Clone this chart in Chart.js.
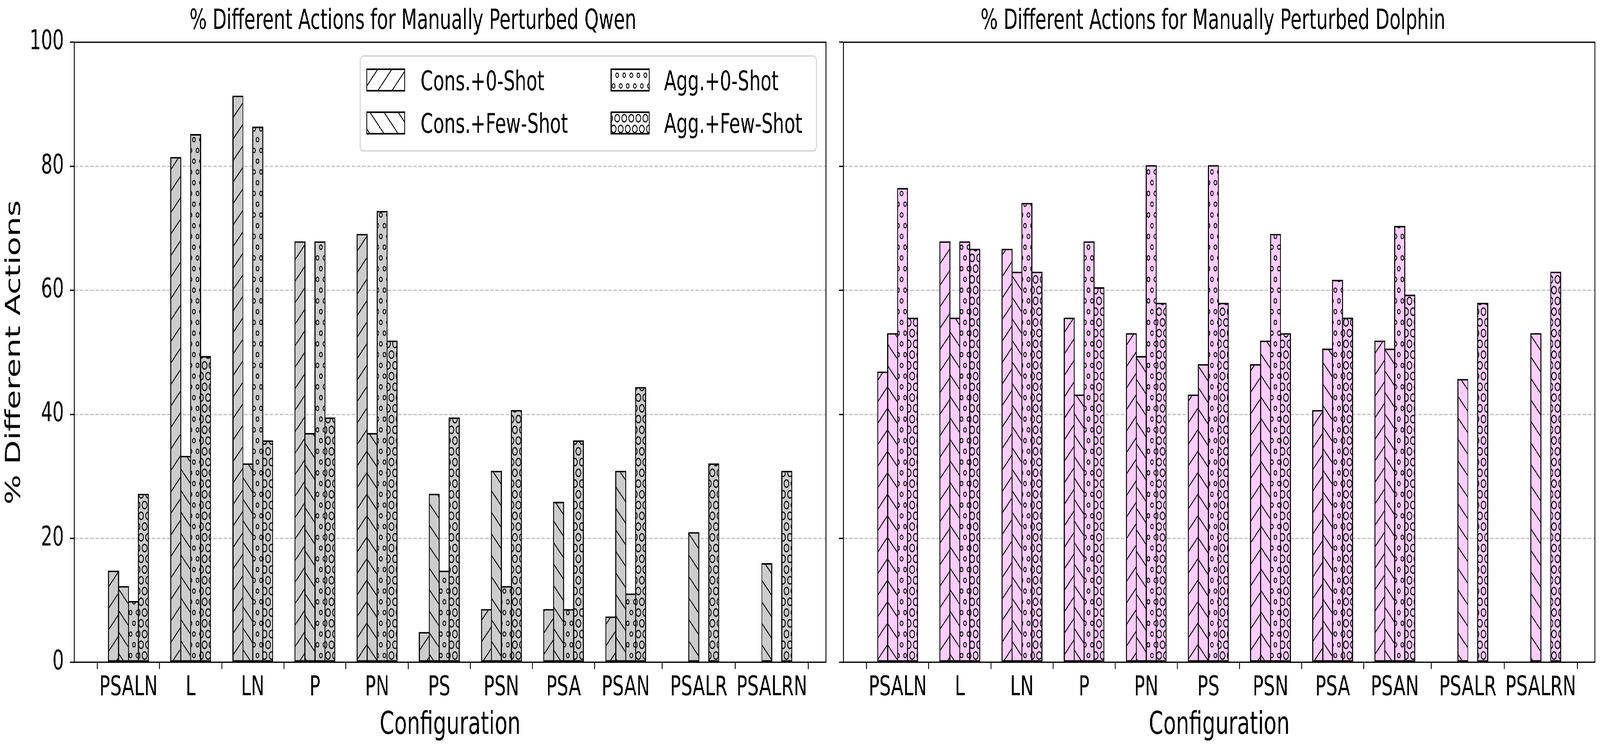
<!DOCTYPE html>
<html>
<head>
<meta charset="utf-8">
<script src="https://cdn.jsdelivr.net/npm/chart.js@4.4.1/dist/chart.umd.min.js"></script>
<style>
html,body{margin:0;padding:0;background:#fff;overflow:hidden;}
#wrap{position:absolute;left:0;top:0;width:6238px;height:1909px;background:#fff;transform-origin:0 0;}
canvas{position:absolute;top:0;}
</style>
</head>
<body>
<div id="wrap">
<canvas id="c1" width="3240" height="1909" style="left:0;width:3240px;height:1909px"></canvas>
<canvas id="c2" width="2998" height="1909" style="left:3240px;width:2998px;height:1909px"></canvas>
</div>
<script>
// ---------- data ----------
const categories = ['PSALN','L','LN','P','PN','PS','PSN','PSA','PSAN','PSALR','PSALRN'];
const categoryX = [0, 1, 2, 3, 4, 5, 6, 7, 8, 9.175, 10.35];
const seriesNames = ['Cons.+0-Shot','Cons.+Few-Shot','Agg.+0-Shot','Agg.+Few-Shot'];
const yTicks = [0, 20, 40, 60, 80, 100];
const titles = ['% Different Actions for Manually Perturbed Qwen', '% Different Actions for Manually Perturbed Dolphin'];
const xAxisLabel = 'Configuration';
const yAxisLabel = '% Different Actions';

const qwenCons0   = [14.8, 81.5, 91.4, 67.9, 69.1,  4.9,  8.6,  8.6,  7.4,  0.0,  0.0];
const qwenConsFew = [12.3, 33.3, 32.1, 37.0, 37.0, 27.2, 30.9, 25.9, 30.9, 21.0, 16.0];
const qwenAgg0    = [ 9.9, 85.2, 86.4, 67.9, 72.8, 14.8, 12.3,  8.6, 11.1,  0.0,  0.0];
const qwenAggFew  = [27.2, 49.4, 35.8, 39.5, 51.9, 39.5, 40.7, 35.8, 44.4, 32.1, 30.9];

const dolphinCons0   = [46.9, 67.9, 66.7, 55.6, 53.1, 43.2, 48.1, 40.7, 51.9,  0.0,  0.0];
const dolphinConsFew = [53.1, 55.6, 63.0, 43.2, 49.4, 48.1, 51.9, 50.6, 50.6, 45.7, 53.1];
const dolphinAgg0    = [76.5, 67.9, 74.1, 67.9, 80.2, 80.2, 69.1, 61.7, 70.4,  0.0,  0.0];
const dolphinAggFew  = [55.6, 66.7, 63.0, 60.5, 58.0, 58.0, 53.1, 55.6, 59.3, 58.0, 63.0];

// ---------- fit the 6238x1909 figure into the actual window ----------
(function fit() {
  const sx = (window.innerWidth || 6238) / 6238;
  const sy = (window.innerHeight || 1909) / 1909;
  document.getElementById('wrap').style.transform = 'scale(' + sx + ',' + sy + ')';
})();

// ---------- styles ----------
const FONT = "'DejaVu Sans', sans-serif";
const hatchKinds = ['/', '\\', 'o', 'O'];
const qwenFill = '#cccccc';
const dolphinFill = '#ffccff';

function makeHatch(kind, fill) {
  const s = 55;
  const c = document.createElement('canvas');
  c.width = s; c.height = s;
  const g = c.getContext('2d');
  g.fillStyle = fill; g.fillRect(0, 0, s, s);
  g.strokeStyle = '#000'; g.lineWidth = 3;
  if (kind === '/') {
    for (const k of [-s, 0, s]) { g.beginPath(); g.moveTo(k, s); g.lineTo(k + s, 0); g.stroke(); }
  } else if (kind === '\\') {
    for (const k of [-s, 0, s]) { g.beginPath(); g.moveTo(k, 0); g.lineTo(k + s, s); g.stroke(); }
  } else {
    const r = kind === 'o' ? 5.5 : 9.4;
    const h = s / 2;
    const pts = [];
    for (const y of [0, s]) for (const x of [0, h, s]) pts.push([x, y]);
    for (const x of [h / 2, h + h / 2]) pts.push([x, h]);
    pts.forEach(([x, y]) => { g.beginPath(); g.arc(x, y, r, 0, Math.PI * 2); g.stroke(); });
  }
  return g.createPattern(c, 'repeat');
}

function buildDatasets(seriesList, fill) {
  return seriesList.map((vals, i) => ({
    label: seriesNames[i],
    data: categoryX.map((x, j) => ({ x: x, y: vals[j] })),
    backgroundColor: makeHatch(hatchKinds[i], fill),
    borderColor: '#000',
    borderWidth: 4,
    borderSkipped: false,
    categoryPercentage: 0.64,
    barPercentage: 1.103
  }));
}

const framePlugin = {
  id: 'frame',
  afterDraw(chart) {
    const { ctx, chartArea: a } = chart;
    ctx.save();
    ctx.strokeStyle = '#000';
    ctx.lineWidth = 3.3;
    ctx.beginPath();
    ctx.moveTo(a.left, a.top); ctx.lineTo(a.right, a.top); ctx.lineTo(a.right, a.bottom);
    ctx.stroke();
    ctx.restore();
  }
};

const legendPlugin = {
  id: 'hatchLegend',
  afterDraw(chart) {
    const { ctx, chartArea: a } = chart;
    const w = 1779, h = 243;
    const bx = a.right - 37 - w, by = a.top + 35;
    ctx.save();
    const r = 13;
    ctx.beginPath();
    ctx.moveTo(bx + r, by);
    ctx.lineTo(bx + w - r, by); ctx.arcTo(bx + w, by, bx + w, by + r, r);
    ctx.lineTo(bx + w, by + h - r); ctx.arcTo(bx + w, by + h, bx + w - r, by + h, r);
    ctx.lineTo(bx + r, by + h); ctx.arcTo(bx, by + h, bx, by + h - r, r);
    ctx.lineTo(bx, by + r); ctx.arcTo(bx, by, bx + r, by, r);
    ctx.closePath();
    ctx.fillStyle = 'rgba(255,255,255,0.8)';
    ctx.fill();
    ctx.strokeStyle = '#cccccc';
    ctx.lineWidth = 3;
    ctx.stroke();
    // entries, column-major
    const colHandleX = [26, 979];
    const colTextX = [236, 1185];
    const rowTop = [34, 144];
    const rowBase = [88, 197];
    ctx.font = '70px ' + FONT;
    ctx.textBaseline = 'alphabetic';
    ctx.textAlign = 'left';
    for (let i = 0; i < seriesNames.length; i++) {
      const col = Math.floor(i / 2), row = i % 2;
      const hx = bx + colHandleX[col], hy = by + rowTop[row];
      ctx.fillStyle = makeHatch(hatchKinds[i], '#ffffff');
      ctx.fillRect(hx, hy, 148, 55);
      ctx.strokeStyle = '#000'; ctx.lineWidth = 4;
      ctx.strokeRect(hx, hy, 148, 55);
      ctx.fillStyle = '#000';
      ctx.fillText(seriesNames[i], bx + colTextX[col], by + rowBase[row]);
    }
    ctx.restore();
  }
};

function makeOptions(title, showYLabels, yWidth, padRight) {
  return {
    responsive: false,
    animation: false,
    devicePixelRatio: 1,
    layout: { padding: { left: 0, right: padRight, top: 0, bottom: 0 } },
    plugins: {
      legend: { display: false },
      tooltip: { enabled: false },
      title: {
        display: true, text: title, color: '#000',
        font: { family: FONT, size: 71, weight: 'normal', lineHeight: 1.2 },
        padding: { top: 13, bottom: 10 }
      }
    },
    scales: {
      x: {
        type: 'linear', min: -0.87, max: 11.22, offset: false, z: 1,
        afterBuildTicks: ax => { ax.ticks = categoryX.map(v => ({ value: v })); },
        afterFit: ax => { ax.height = 214; },
        ticks: {
          autoSkip: false, maxRotation: 0, minRotation: 0, padding: 7, color: '#000',
          font: { family: FONT, size: 70 },
          callback: (v, i) => categories[i]
        },
        grid: {
          display: true, drawOnChartArea: false, drawTicks: true,
          tickLength: 17, tickWidth: 3.3, tickColor: '#000', color: '#000', lineWidth: 3.3
        },
        border: { display: true, color: '#000', width: 3.3 },
        title: {
          display: true, text: xAxisLabel, color: '#000',
          font: { family: FONT, size: 81, lineHeight: 1.2 },
          padding: { top: 0, bottom: 3 }
        }
      },
      y: {
        type: 'linear', min: 0, max: 100, z: 1,
        afterBuildTicks: ax => { ax.ticks = yTicks.map(v => ({ value: v })); },
        afterFit: ax => { ax.width = yWidth; },
        ticks: { display: showYLabels, padding: 24, color: '#000', font: { family: FONT, size: 70 } },
        grid: {
          color: c => (c.tick && (c.tick.value === 0 || c.tick.value === 100)) ? 'rgba(0,0,0,0)' : 'rgba(176,176,176,0.7)',
          lineWidth: 3.5, tickLength: 17, tickWidth: 3.3, tickColor: '#000'
        },
        border: { display: true, color: '#000', width: 3.3, dash: [14, 6] },
        title: {
          display: showYLabels, text: yAxisLabel, color: '#000',
          font: { family: FONT, size: 81, lineHeight: 1.2 },
          padding: { top: 8, bottom: 0 }
        }
      }
    }
  };
}

new Chart(document.getElementById('c1'), {
  type: 'bar',
  data: { datasets: buildDatasets([qwenCons0, qwenConsFew, qwenAgg0, qwenAggFew], qwenFill) },
  options: makeOptions(titles[0], true, 290, 20),
  plugins: [framePlugin, legendPlugin]
});

new Chart(document.getElementById('c2'), {
  type: 'bar',
  data: { datasets: buildDatasets([dolphinCons0, dolphinConsFew, dolphinAgg0, dolphinAggFew], dolphinFill) },
  options: makeOptions(titles[1], false, 49, 20),
  plugins: [framePlugin]
});
</script>
</body>
</html>
